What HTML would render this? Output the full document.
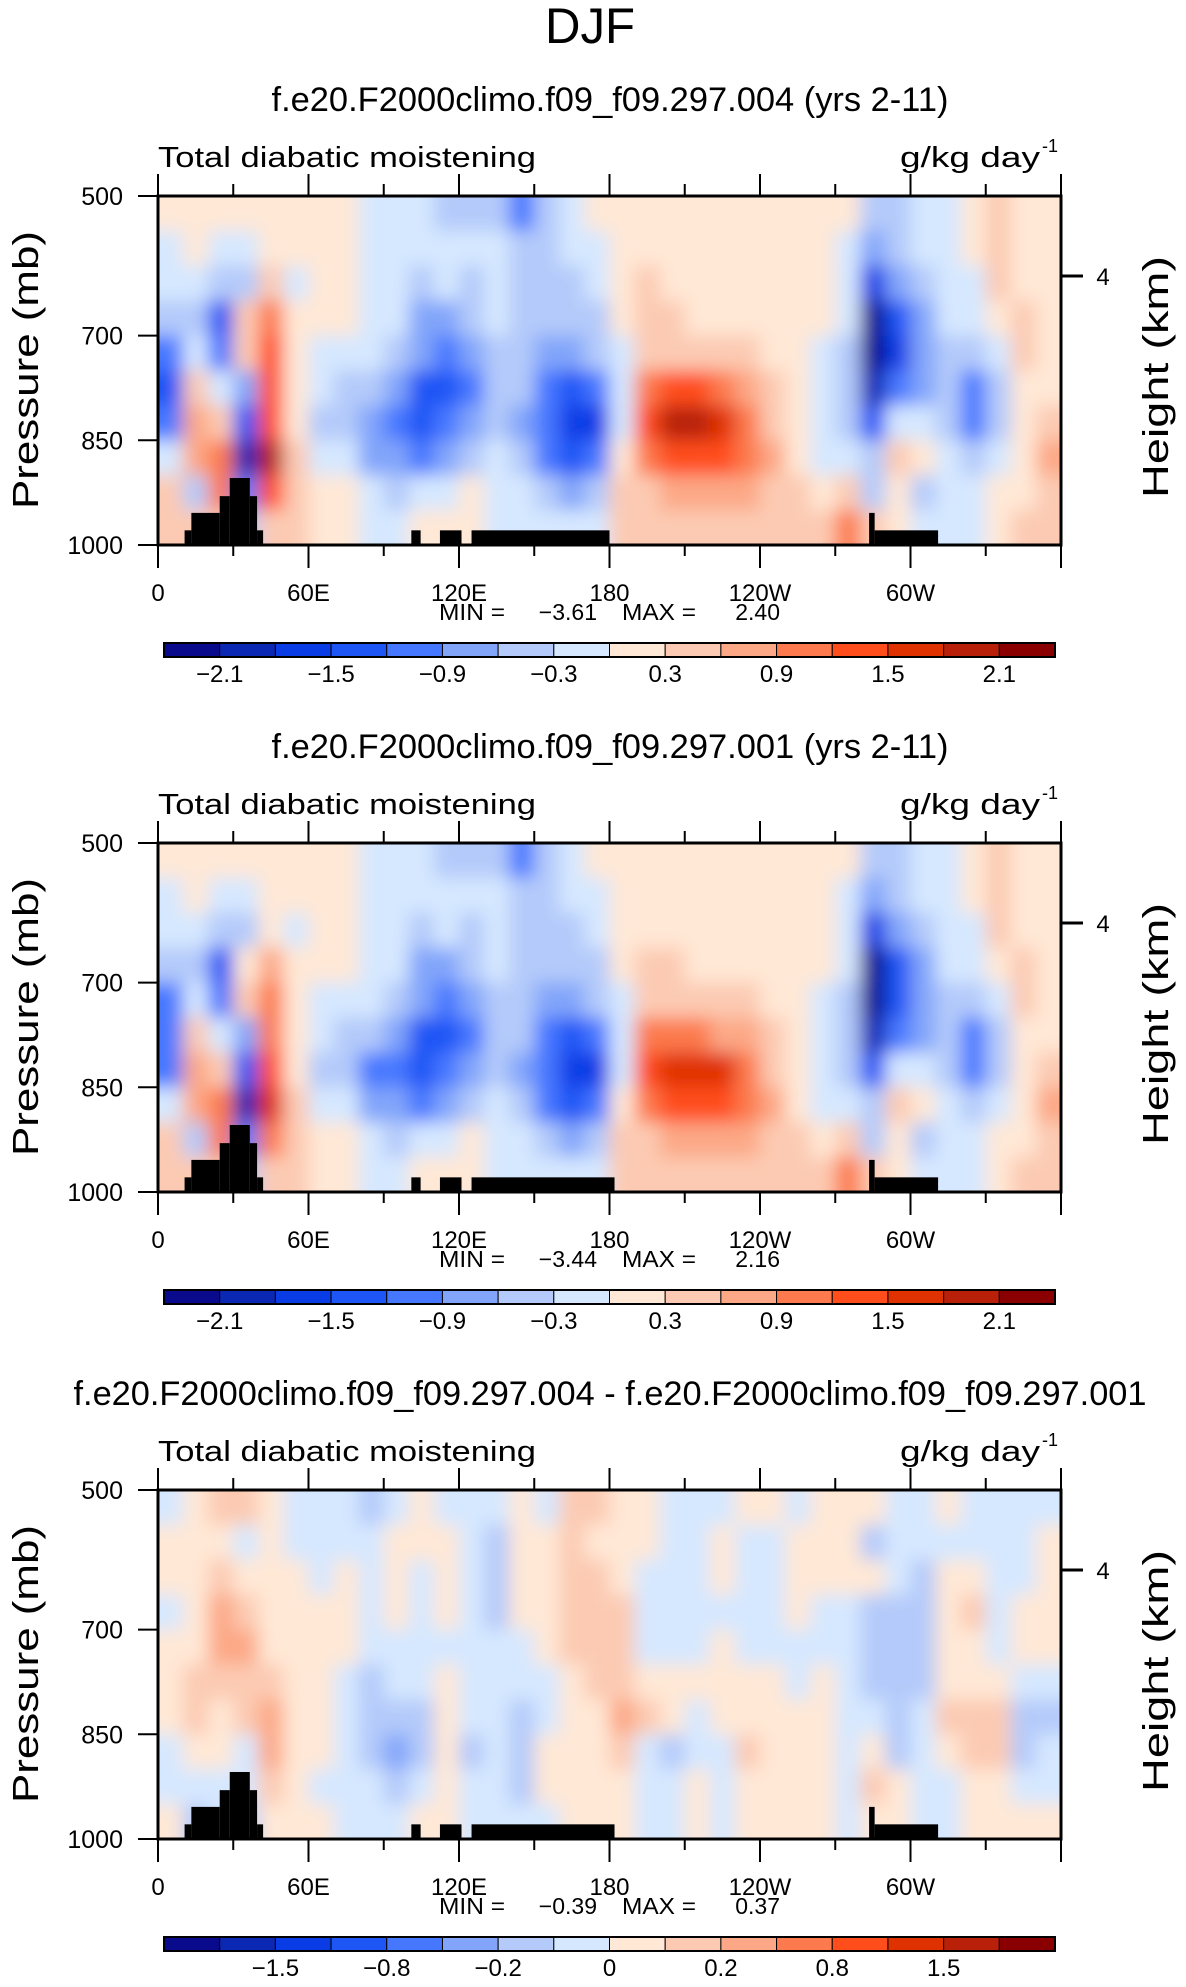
<!DOCTYPE html>
<html><head><meta charset="utf-8"><style>
html,body{margin:0;padding:0;background:#fff;}
svg{display:block;font-family:"Liberation Sans",sans-serif;}
</style></head><body>
<svg id="fig" width="1186" height="1987" viewBox="0 0 1186 1987" xmlns="http://www.w3.org/2000/svg">
<defs>
<filter id="soft" filterUnits="userSpaceOnUse" x="0" y="0" width="1186" height="1987"><feGaussianBlur stdDeviation="9"/></filter>
</defs>
<text x="590" y="43" font-size="50" text-anchor="middle" textLength="90" lengthAdjust="spacingAndGlyphs">DJF</text>
</svg>
<script>
const colors = ["#0a0a8c","#0a28b4","#0a3ce6","#1e55f5","#4678ff","#82a5fa","#b4cafa","#d6e8ff","#ffe8d6","#fccab2","#fca886","#fc7a4e","#ff4e1c","#e03200","#b8200a","#8a0000"];
const levels1 = [-2.1,-1.8,-1.5,-1.2,-0.9,-0.6,-0.3,0,0.3,0.6,0.9,1.2,1.5,1.8,2.1];
const levels3 = [-2,-1.5,-1,-0.8,-0.4,-0.2,-0.1,0,0.1,0.2,0.4,0.8,1,1.5,2];
const cbLabels1 = ["-2.1","-1.5","-0.9","-0.3","0.3","0.9","1.5","2.1"];
const cbLabelIdx1 = [1,3,5,7,9,11,13,15];
const cbLabels3 = ["-1.5","-0.8","-0.2","0","0.2","0.8","1.5"];
const cbLabelIdx3 = [2,4,6,8,10,12,14];
const xTickLons = [0,60,120,180,240,300];
const xTickLabels = ["0","60E","120E","180","120W","60W"];
const yTickP = [500,700,850,1000];
const yTickLabels = ["500","700","850","1000"];
const titles = ["f.e20.F2000climo.f09_f09.297.004 (yrs 2-11)","f.e20.F2000climo.f09_f09.297.001 (yrs 2-11)","f.e20.F2000climo.f09_f09.297.004 - f.e20.F2000climo.f09_f09.297.001"];
const minVals = ["-3.61","-3.44","-0.39"];
const maxVals = ["2.40","2.16","0.37"];
const p1Values = [
[0.1,-0.1,-0.3,-0.6,-1.2,-1.3,-1.0,-0.3,0.3,0.5],
[0.1,0.1,-0.2,-0.5,-0.3,0.3,0.6,0.6,-0.5,0.3],
[0.1,-0.1,-0.6,-1.3,-1.0,-0.2,0.5,1.1,0.9,0.5],
[0.1,-0.2,-0.5,0.3,0.5,-0.8,-1.5,-2.0,-1.0,-0.5],
[0.1,0.1,0.3,0.9,1.2,1.3,1.4,2.0,1.2,0.5],
[0.1,0.1,-0.1,0.1,0.2,0.2,0.2,0.3,0.3,0.4],
[0.1,0.1,0.1,0.1,-0.1,-0.3,-0.4,-0.2,0.1,0.2],
[0.1,0.1,0.1,0.1,-0.2,-0.4,-0.5,-0.3,0.1,0.2],
[-0.1,-0.1,-0.1,-0.2,-0.3,-0.6,-0.9,-0.7,-0.3,-0.1],
[-0.1,-0.2,-0.2,-0.3,-0.6,-0.8,-1.0,-0.8,-0.5,-0.2],
[-0.3,-0.3,-0.4,-0.7,-0.9,-1.4,-1.3,-1.0,-0.3,0.2],
[-0.4,-0.2,-0.3,-0.7,-1.0,-1.3,-1.2,-0.7,-0.2,0.1],
[-0.4,-0.2,-0.4,-0.5,-0.8,-1.0,-0.9,-0.4,0.2,0.1],
[-0.5,-0.3,-0.3,-0.3,-0.4,-0.5,-0.4,-0.2,-0.2,-0.1],
[-1.0,-0.6,-0.6,-0.6,-0.6,-0.6,-0.7,-0.6,-0.3,-0.1],
[-0.4,-0.4,-0.5,-0.6,-0.7,-1.0,-1.1,-1.0,-0.6,-0.3],
[-0.2,-0.3,-0.4,-0.5,-0.7,-1.3,-1.8,-1.3,-0.7,-0.3],
[0.1,-0.1,-0.3,-0.4,-0.6,-1.2,-1.7,-1.2,-0.6,-0.3],
[0.1,0.1,0.1,0.1,-0.1,-0.3,-0.3,0.1,0.3,0.3],
[0.1,0.1,0.3,0.3,0.4,0.9,1.4,1.0,0.5,0.3],
[0.1,0.1,0.1,0.3,0.5,1.2,1.8,1.4,0.7,0.3],
[0.1,0.1,0.1,0.1,0.4,1.2,1.8,1.4,0.7,0.3],
[0.1,0.1,0.1,0.1,0.3,0.9,1.7,1.3,0.7,0.3],
[0.1,0.1,0.1,0.1,0.3,0.6,1.1,1.0,0.6,0.3],
[0.1,0.1,0.1,0.1,0.1,0.4,0.5,0.6,0.4,0.3],
[0.1,0.1,0.1,0.1,0.1,0.1,0.1,0.2,0.3,0.3],
[0.1,0.1,0.1,0.1,-0.1,-0.2,-0.2,-0.1,0.1,0.3],
[0.1,-0.1,-0.2,-0.3,-0.5,-0.6,-0.4,-0.1,0.5,1.0],
[-0.4,-0.8,-1.8,-2.6,-2.4,-2.0,-1.5,-0.5,-0.5,0.3],
[-0.4,-0.4,-0.8,-1.3,-1.6,-1.2,-0.3,0.3,0.2,0.1],
[-0.2,-0.3,-0.6,-0.8,-0.9,-0.8,-0.3,0.1,-0.6,-0.2],
[-0.3,-0.1,-0.2,-0.2,-0.5,-0.6,-0.5,-0.3,-0.3,-0.1],
[0.1,0.1,-0.1,-0.1,-0.4,-1.0,-1.2,-0.6,-0.3,-0.1],
[0.4,0.3,0.3,0.1,-0.2,-0.4,-0.4,-0.2,0.1,0.1],
[0.1,0.1,0.1,0.3,0.3,0.1,0.1,0.2,0.2,0.3],
[0.1,0.1,0.1,0.1,0.2,0.1,0.5,0.7,0.5,0.4]];
const p2Values = [
[0.1,-0.1,-0.3,-0.6,-1.2,-1.2,-1.0,-0.3,0.3,0.5],
[0.1,0.1,-0.2,-0.5,-0.3,0.3,0.6,0.6,-0.5,0.3],
[0.1,-0.1,-0.6,-1.3,-1.0,-0.2,0.5,1.0,0.9,0.5],
[0.1,-0.2,-0.5,0.2,0.4,-0.8,-1.4,-2.0,-1.0,-0.5],
[0.1,0.1,0.2,0.7,1.0,1.1,1.2,1.6,1.1,0.5],
[0.1,0.1,-0.1,0.1,0.1,0.2,0.2,0.3,0.3,0.4],
[0.1,0.1,0.1,0.1,-0.1,-0.3,-0.4,-0.2,0.1,0.2],
[0.1,0.1,0.1,0.1,-0.2,-0.4,-0.6,-0.3,0.1,0.2],
[-0.1,-0.1,-0.1,-0.2,-0.3,-0.6,-1.0,-0.7,-0.3,-0.1],
[-0.1,-0.2,-0.2,-0.3,-0.6,-0.8,-1.0,-0.8,-0.5,-0.2],
[-0.3,-0.3,-0.4,-0.7,-0.9,-1.3,-1.3,-1.0,-0.3,0.2],
[-0.4,-0.2,-0.3,-0.7,-1.0,-1.3,-1.2,-0.7,-0.2,0.1],
[-0.4,-0.2,-0.4,-0.5,-0.8,-1.0,-0.9,-0.4,0.1,0.1],
[-0.5,-0.3,-0.3,-0.3,-0.4,-0.5,-0.4,-0.2,-0.2,-0.1],
[-1.0,-0.6,-0.6,-0.6,-0.6,-0.6,-0.7,-0.6,-0.3,-0.1],
[-0.4,-0.4,-0.5,-0.6,-0.7,-1.0,-1.2,-1.0,-0.6,-0.3],
[-0.2,-0.3,-0.4,-0.5,-0.7,-1.3,-1.8,-1.3,-0.7,-0.3],
[0.1,-0.1,-0.3,-0.4,-0.6,-1.2,-1.6,-1.2,-0.6,-0.3],
[0.1,0.1,0.1,0.1,-0.1,-0.3,-0.3,0.1,0.3,0.3],
[0.1,0.1,0.2,0.3,0.4,0.9,1.3,1.0,0.5,0.3],
[0.1,0.1,0.1,0.3,0.5,1.1,1.7,1.3,0.7,0.3],
[0.1,0.1,0.1,0.1,0.4,1.1,1.7,1.3,0.7,0.3],
[0.1,0.1,0.1,0.1,0.3,0.8,1.5,1.2,0.7,0.3],
[0.1,0.1,0.1,0.1,0.3,0.6,1.0,0.9,0.6,0.3],
[0.1,0.1,0.1,0.1,0.1,0.4,0.5,0.6,0.4,0.3],
[0.1,0.1,0.1,0.1,0.1,0.1,0.1,0.2,0.3,0.3],
[0.1,0.1,0.1,0.1,-0.1,-0.2,-0.2,-0.1,0.1,0.3],
[0.1,-0.1,-0.2,-0.3,-0.5,-0.6,-0.4,-0.1,0.4,0.9],
[-0.4,-0.8,-1.8,-2.6,-2.4,-2.0,-1.5,-0.5,-0.5,0.3],
[-0.4,-0.4,-0.8,-1.3,-1.5,-1.1,-0.3,0.3,0.2,0.1],
[-0.2,-0.3,-0.6,-0.8,-0.9,-0.8,-0.3,0.1,-0.6,-0.2],
[-0.3,-0.1,-0.2,-0.2,-0.5,-0.6,-0.5,-0.3,-0.3,-0.1],
[0.1,0.1,-0.1,-0.1,-0.4,-1.0,-1.2,-0.6,-0.3,-0.1],
[0.4,0.3,0.3,0.1,-0.2,-0.4,-0.4,-0.2,0.1,0.1],
[0.1,0.1,0.1,0.3,0.3,0.1,0.1,0.2,0.2,0.3],
[0.1,0.1,0.1,0.1,0.2,0.1,0.5,0.7,0.5,0.4]];
const p3Values = [
[-0.05,0.05,0.05,-0.05,0.05,0.05,0.05,-0.05,-0.05,0.05],
[0.05,0.05,0.05,0.05,0.05,0.15,0.15,0.05,-0.05,-0.15],
[0.15,0.05,0.15,0.3,0.3,0.15,0.05,0.05,-0.05,-0.05],
[0.15,-0.05,0.05,0.15,0.3,0.15,0.15,-0.05,-0.05,-0.15],
[0.05,0.05,0.05,0.05,0.05,0.15,0.3,0.3,0.15,0.05],
[-0.05,-0.05,0.05,0.05,0.05,0.05,0.05,0.05,0.05,0.05],
[-0.05,-0.05,-0.05,0.05,0.05,0.05,0.05,0.05,-0.05,0.05],
[-0.05,-0.05,0.05,0.05,0.05,-0.05,-0.05,-0.05,-0.05,-0.05],
[-0.15,-0.05,-0.05,-0.05,-0.05,-0.15,-0.15,-0.15,-0.05,-0.05],
[-0.05,0.05,0.05,0.05,-0.05,-0.05,-0.15,-0.3,-0.15,-0.05],
[0.05,0.05,-0.05,-0.05,-0.05,-0.05,-0.15,-0.15,-0.05,0.05],
[-0.05,0.05,0.05,0.05,-0.05,0.05,0.05,0.05,0.05,0.05],
[-0.05,-0.05,-0.05,-0.05,-0.05,-0.05,-0.05,-0.15,-0.05,-0.05],
[-0.05,-0.15,-0.15,-0.15,-0.05,-0.05,-0.05,-0.05,-0.05,-0.05],
[0.05,0.05,0.05,0.05,-0.05,-0.05,-0.15,-0.15,-0.15,-0.05],
[-0.05,0.05,0.05,0.05,0.05,-0.05,-0.05,0.05,0.05,-0.05],
[0.15,0.15,0.15,0.15,0.15,0.05,0.05,0.05,0.05,0.05],
[0.15,0.05,0.15,0.15,0.15,0.15,0.05,0.05,0.05,0.05],
[0.05,0.05,0.05,0.15,0.15,0.15,0.3,0.15,0.05,0.05],
[0.05,0.05,-0.05,-0.05,-0.05,0.05,0.15,-0.05,-0.05,-0.05],
[-0.05,-0.05,-0.05,-0.05,-0.05,0.05,0.05,-0.15,-0.05,-0.05],
[-0.05,-0.05,-0.05,-0.05,-0.05,0.05,-0.05,-0.05,0.05,0.05],
[-0.05,0.05,0.05,-0.05,0.05,0.05,0.05,-0.05,-0.05,-0.05],
[0.05,-0.05,-0.05,-0.05,-0.05,0.05,0.05,0.15,0.05,0.05],
[0.05,-0.05,-0.05,-0.05,-0.05,0.05,0.05,0.05,0.05,0.05],
[-0.05,0.05,0.05,0.05,-0.05,-0.05,0.05,0.05,0.05,0.05],
[0.05,0.05,0.05,-0.05,-0.05,0.05,0.05,0.05,0.05,0.05],
[0.05,0.05,0.05,-0.05,-0.05,-0.05,-0.05,-0.05,-0.05,-0.05],
[0.05,-0.15,0.05,-0.15,-0.15,-0.15,-0.05,0.05,0.15,0.05],
[-0.05,-0.05,-0.05,-0.15,-0.15,-0.15,-0.15,-0.15,0.05,0.05],
[-0.05,-0.05,-0.15,-0.15,-0.15,-0.15,-0.05,-0.05,-0.05,-0.05],
[0.05,-0.05,0.05,0.05,0.05,0.05,0.15,0.05,-0.05,-0.05],
[-0.05,-0.05,0.05,0.15,0.05,0.05,0.15,0.15,0.05,0.05],
[-0.05,-0.05,-0.05,-0.05,-0.05,0.05,0.15,0.15,0.05,0.05],
[-0.05,-0.05,-0.05,0.05,0.05,-0.05,-0.15,-0.15,-0.05,0.05],
[-0.05,0.05,0.05,0.05,0.05,-0.05,-0.15,-0.05,-0.05,0.05]];
const topoLonStart1 = [10.6,13.3,24.6,28.6,36.6,39.5,101,112.4,125,283.5,285.7];
const topoLonEnd1   = [13.3,24.6,28.6,36.6,39.5,41.9,104.7,121,180,285.7,311];
const topoTopP1     = [979,954,930,904,930,979,979,979,979,954,979];
const topoLonStart2 = [10.6,13.3,24.6,28.6,36.6,39.5,101,112.4,125,283.5,285.7];
const topoLonEnd2   = [13.3,24.6,28.6,36.6,39.5,41.9,104.7,121,182,285.7,311];
const topoTopP2     = [979,954,930,904,930,979,979,979,979,954,979];

const NS = "http://www.w3.org/2000/svg";
const svg = document.getElementById("fig");
const PX0 = 158, PX1 = 1061, PH = 349, PANEL_DY = 647;
function el(tag, attrs, parent, txt){
  const e = document.createElementNS(NS, tag);
  for (const k in attrs) e.setAttribute(k, attrs[k]);
  if (txt !== undefined) e.textContent = txt;
  (parent || svg).appendChild(e);
  return e;
}
function xOf(lon){ return PX0 + lon / 360 * (PX1 - PX0); }
function colorFor(v, lv){ let i = 0; while (i < lv.length && v >= lv[i]) i++; return colors[i]; }

function drawPanel(k, vals, lv, tLonS, tLonE, tTop, cbL, cbIdx){
  const top = 196 + k * PANEL_DY;
  const yOf = p => top + (p - 500) / 500 * PH;
  const g = el("g", {});
  
  
  const title = el("text", {x: 610, y: 111 + k * PANEL_DY, "font-size": 34, "text-anchor": "middle", textLength: k === 2 ? 1073 : 677, lengthAdjust: "spacingAndGlyphs"}, g, titles[k]);
  
  
  const clipId = "clip" + k;
  const cp = el("clipPath", {id: clipId}, g);
  el("rect", {x: PX0, y: top, width: PX1 - PX0, height: PH}, cp);
  const outer = el("g", {"clip-path": "url(#" + clipId + ")"}, g);
  const heat = el("g", {filter: "url(#soft)"}, outer);
  
  
  const nc = vals.length, nr = vals[0].length;
  for (let i = 0; i < nc; i++){
    for (let j = 0; j < nr; j++){
      let x0 = xOf(i * 360 / nc), x1 = xOf((i + 1) * 360 / nc);
      let y0 = yOf(500 + j * 500 / nr), y1 = yOf(500 + (j + 1) * 500 / nr);
      if (i === 0) x0 -= 30; if (i === nc - 1) x1 += 30;
      if (j === 0) y0 -= 30; if (j === nr - 1) y1 += 30;
      const r = el("rect", {x: x0, y: y0, width: x1 - x0 + 0.6, height: y1 - y0 + 0.6, fill: colorFor(vals[i][j], lv)}, heat);
      
      
    }
  }
  for (let t = 0; t < tLonS.length; t++){
    const r = el("rect", {x: xOf(tLonS[t]), y: yOf(tTop[t]), width: xOf(tLonE[t]) - xOf(tLonS[t]), height: yOf(1000) - yOf(tTop[t]), fill: "#000"}, outer);
    
    
  }
  const frame = el("rect", {x: PX0, y: top, width: PX1 - PX0, height: PH, fill: "none", stroke: "#000", "stroke-width": 3}, g);
  
  
  for (let lon = 0; lon <= 360; lon += 30){
    const major = lon % 60 === 0, x = xOf(lon);
    el("line", {x1: x, x2: x, y1: top, y2: top - (major ? 22 : 12), stroke: "#000", "stroke-width": 2}, g);
    el("line", {x1: x, x2: x, y1: top + PH, y2: top + PH + (major ? 23 : 11), stroke: "#000", "stroke-width": 2}, g);
  }
  for (let i = 0; i < xTickLons.length; i++){
    const t = el("text", {x: xOf(xTickLons[i]), y: top + PH + 56, "font-size": 24, "text-anchor": "middle"}, g, xTickLabels[i]);
    
    
  }
  for (let i = 0; i < yTickP.length; i++){
    const y = yOf(yTickP[i]);
    el("line", {x1: PX0, x2: PX0 - 20, y1: y, y2: y, stroke: "#000", "stroke-width": 2}, g);
    const t = el("text", {x: 123, y: y + 9, "font-size": 25, "text-anchor": "end"}, g, yTickLabels[i]);
    
    
  }
  el("line", {x1: PX1, x2: PX1 + 22, y1: top + 80, y2: top + 80, stroke: "#000", "stroke-width": 3}, g);
  const r4 = el("text", {x: 1103, y: top + 89, "font-size": 24, "text-anchor": "middle"}, g, "4");
  
  
  const lt = el("text", {x: 158, y: top - 29, "font-size": 29, textLength: 378, lengthAdjust: "spacingAndGlyphs"}, g, "Total diabatic moistening");
  
  
  const ut = el("text", {x: 900, y: top - 29, "font-size": 29, textLength: 140, lengthAdjust: "spacingAndGlyphs"}, g, "g/kg day");
  
  
  el("text", {x: 1042, y: top - 44, "font-size": 18}, g, "-1");
  const yl = el("text", {x: 0, y: 0, "font-size": 36, "text-anchor": "middle", textLength: 278, lengthAdjust: "spacingAndGlyphs", transform: "translate(38," + (top + 174) + ") rotate(-90)"}, g, "Pressure  (mb)");
  
  
  const hl = el("text", {x: 0, y: 0, "font-size": 36, "text-anchor": "middle", textLength: 242, lengthAdjust: "spacingAndGlyphs", transform: "translate(1168," + (top + 181) + ") rotate(-90)"}, g, "Height  (km)");
  
  
  const my = top + PH + 75;
  el("text", {x: 439, y: my, "font-size": 23, textLength: 66, lengthAdjust: "spacingAndGlyphs"}, g, "MIN =");
  el("text", {x: 597, y: my, "font-size": 23, "text-anchor": "end"}, g, minVals[k].replace("-", "\u2212"));
  el("text", {x: 622, y: my, "font-size": 23, textLength: 74, lengthAdjust: "spacingAndGlyphs"}, g, "MAX =");
  el("text", {x: 780, y: my, "font-size": 23, "text-anchor": "end"}, g, maxVals[k]);
  const cbTop = top + 447, cbX0 = 164, cbW = 891 / 16;
  const cb = el("g", {}, g);
  
  
  for (let i = 0; i < 16; i++){
    el("rect", {x: cbX0 + i * cbW, y: cbTop, width: cbW, height: 14, fill: colors[i], stroke: "#000", "stroke-width": 1}, cb);
  }
  el("rect", {x: cbX0, y: cbTop, width: 891, height: 14, fill: "none", stroke: "#000", "stroke-width": 2}, cb);
  for (let i = 0; i < cbL.length; i++){
    const t = el("text", {x: cbX0 + cbIdx[i] * cbW, y: cbTop + 39, "font-size": 24, "text-anchor": "middle"}, cb, cbL[i].replace("-", "\u2212"));
    
    
  }
}
drawPanel(0, p1Values, levels1, topoLonStart1, topoLonEnd1, topoTopP1, cbLabels1, cbLabelIdx1);
drawPanel(1, p2Values, levels1, topoLonStart2, topoLonEnd2, topoTopP2, cbLabels1, cbLabelIdx1);
drawPanel(2, p3Values, levels3, topoLonStart2, topoLonEnd2, topoTopP2, cbLabels3, cbLabelIdx3);
</script>
</body></html>
